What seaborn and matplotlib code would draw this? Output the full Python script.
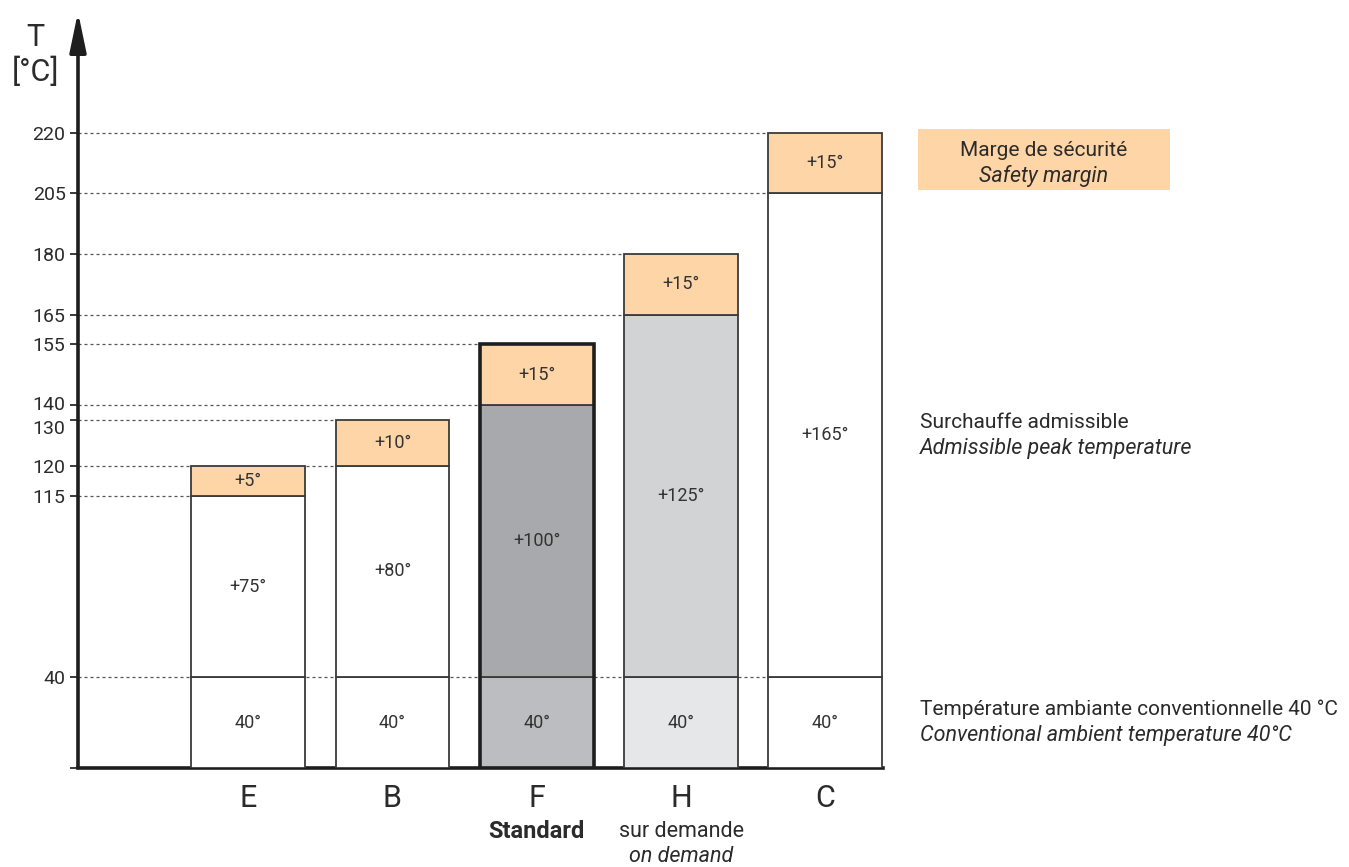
import numpy as np
import pandas as pd
import matplotlib
matplotlib.use("Agg")
import matplotlib.pyplot as plt
import matplotlib.transforms as mtransforms
from matplotlib.patches import Rectangle
import seaborn as sns

# data
classes = ['E', 'B', 'F', 'H', 'C']
ambient = [40, 40, 40, 40, 40]
admissible = [75, 80, 100, 125, 165]
margin = [5, 10, 15, 15, 15]

ambient_colors = ['#ffffff', '#ffffff', '#bcbdc0', '#e6e7e8', '#ffffff']
admissible_colors = ['#ffffff', '#ffffff', '#a7a9ac', '#d1d3d4', '#ffffff']
margin_color = '#fed5a7'
ink = '#2b2b2b'

# the reference axis is schematic, not linear: piecewise scale between the marked temperatures
scale_vals = [0, 40, 115, 120, 130, 140, 155, 165, 180, 205, 220, 250]
scale_pos = [0, 90.4, 272, 302, 348, 362.7, 423.4, 453, 513.7, 574.4, 635, 755.7]

def fwd(v):
    return np.interp(v, scale_vals, scale_pos)

def inv(p):
    return np.interp(p, scale_pos, scale_vals)

df = pd.DataFrame({'classe': classes, 'ambient': ambient,
                   'admissible': admissible, 'margin': margin})
df['low'] = df['ambient']
df['mid'] = df['ambient'] + df['admissible']
df['top'] = df['mid'] + df['margin']

sns.set_style('white')
plt.rcParams['font.family'] = ['Roboto', 'DejaVu Sans']

W, H = 1349, 867
fig = plt.figure(figsize=(W / 100, H / 100), dpi=100)
ax = fig.add_axes([78 / W, (H - 767.7) / H, (883 - 78) / W, 755.7 / H])
ax.set_yscale('function', functions=(fwd, inv))

bar_w = 0.79
segments = [('ambient', None, ambient_colors),
            ('admissible', 'low', admissible_colors),
            ('margin', 'mid', [margin_color] * 5)]
for col, base, colors in segments:
    bottom = 0 if base is None else df[base].values
    n0 = len(ax.patches)
    sns.barplot(data=df, x='classe', y=col, bottom=bottom, width=bar_w,
                color='white', edgecolor='#3a3a3a', linewidth=1.3,
                errorbar=None, ax=ax, zorder=3)
    for i, p in enumerate(ax.patches[n0:]):
        p.set_facecolor(colors[i])

# heavier outline around the standard class
k = classes.index('F')
ax.add_patch(Rectangle((k - bar_w / 2, 0), bar_w, df['top'][k], fill=False,
                       edgecolor='#1e1e1e', linewidth=2.6, zorder=4))

ax.set_xlim(-1.18, 4.4)
ax.set_ylim(0, 250)

# dotted guide lines, from the axis to the last bar that reaches each value
ticks = sorted(set([0] + list(df['low']) + list(df['mid']) + list(df['top'])))
for v in ticks:
    if v == 0:
        continue
    idx = [i for i in range(len(df)) if v in (df['low'][i], df['mid'][i], df['top'][i])]
    end = max(idx) - bar_w / 2
    ax.plot([-1.18, end], [v, v], color='#555555', lw=0.9,
            linestyle=(0, (2.4, 2.4)), zorder=1)

# segment labels
def mid_of(a, b):
    return inv((fwd(a) + fwd(b)) / 2)

lab = dict(ha='center', va='center', fontsize=13, color='#333333', zorder=5)
for i, r in df.iterrows():
    ax.text(i, mid_of(0, r['low']), f"{r['ambient']}°", **lab)
    ax.text(i, mid_of(r['low'], r['mid']), f"+{r['admissible']}°", **lab)
    ax.text(i, mid_of(r['mid'], r['top']), f"+{r['margin']}°", **lab)

# axes look
ax.set_yticks(ticks)
ax.set_yticklabels(['' if t == 0 else str(t) for t in ticks])
ax.tick_params(axis='y', length=6, width=1.3, color=ink, labelsize=14,
               labelcolor=ink, pad=3, left=True)
ax.tick_params(axis='x', length=0, labelsize=22, labelcolor=ink, pad=12)
# the two close labels are spread apart a little, as in the reference
for t, lbl in zip(ticks, ax.get_yticklabels()):
    if t == 130:
        lbl.set_transform(lbl.get_transform() + mtransforms.ScaledTranslation(0, -7 / 100, fig.dpi_scale_trans))
    if t == 140:
        lbl.set_transform(lbl.get_transform() + mtransforms.ScaledTranslation(0, 2 / 100, fig.dpi_scale_trans))
ax.set_xlabel('')
ax.set_ylabel('')
for s in ['top', 'right', 'left']:
    ax.spines[s].set_visible(False)
ax.spines['bottom'].set_linewidth(2.6)
ax.spines['bottom'].set_color('#1e1e1e')
ax.annotate('', xy=(0, 1), xytext=(0, 0), xycoords='axes fraction',
            arrowprops=dict(arrowstyle='-|>,head_length=2.4,head_width=0.5',
                            lw=2.6, color='#1e1e1e', shrinkA=0, shrinkB=0),
            annotation_clip=False)

fig.text(35 / W, 1 - 37 / H, 'T', ha='center', va='center', fontsize=22, color=ink)
fig.text(35 / W, 1 - 72 / H, '[°C]', ha='center', va='center', fontsize=22, color=ink)

# notes under the classes
xt = ax.get_xaxis_transform()
ax.text(2, -0.085, 'Standard', transform=xt, ha='center', va='center',
        fontsize=17, fontweight='bold', color=ink)
ax.text(3, -0.085, 'sur demande', transform=xt, ha='center', va='center',
        fontsize=15.5, color=ink)
ax.text(3, -0.118, 'on demand', transform=xt, ha='center', va='center',
        fontsize=15.5, style='italic', color=ink)

# right side notes, aligned with the segments of the last bar
c = df.iloc[-1]
side = mtransforms.blended_transform_factory(fig.transFigure, ax.transData)
fig.patches.append(Rectangle((918 / W, 1 - 190 / H), 252 / W, 61 / H,
                             transform=fig.transFigure, facecolor=margin_color,
                             edgecolor='none', zorder=0))

def note(x, y, top_line, bottom_line, ha):
    fig.text(x, y, top_line, transform=side + mtransforms.ScaledTranslation(0, 13 / 100, fig.dpi_scale_trans),
             ha=ha, va='center', fontsize=15, color=ink, zorder=5)
    fig.text(x, y, bottom_line, transform=side + mtransforms.ScaledTranslation(0, -13 / 100, fig.dpi_scale_trans),
             ha=ha, va='center', fontsize=15.5, style='italic', color=ink, zorder=5)

note(1044 / W, mid_of(c['mid'], c['top']), 'Marge de sécurité', 'Safety margin', 'center')
note(920 / W, mid_of(c['low'], c['mid']), 'Surchauffe admissible',
     'Admissible peak temperature', 'left')
note(920 / W, mid_of(0, c['low']), 'Température ambiante conventionnelle 40 °C',
     'Conventional ambient temperature 40°C', 'left')

fig.savefig('out.png', dpi=100)
